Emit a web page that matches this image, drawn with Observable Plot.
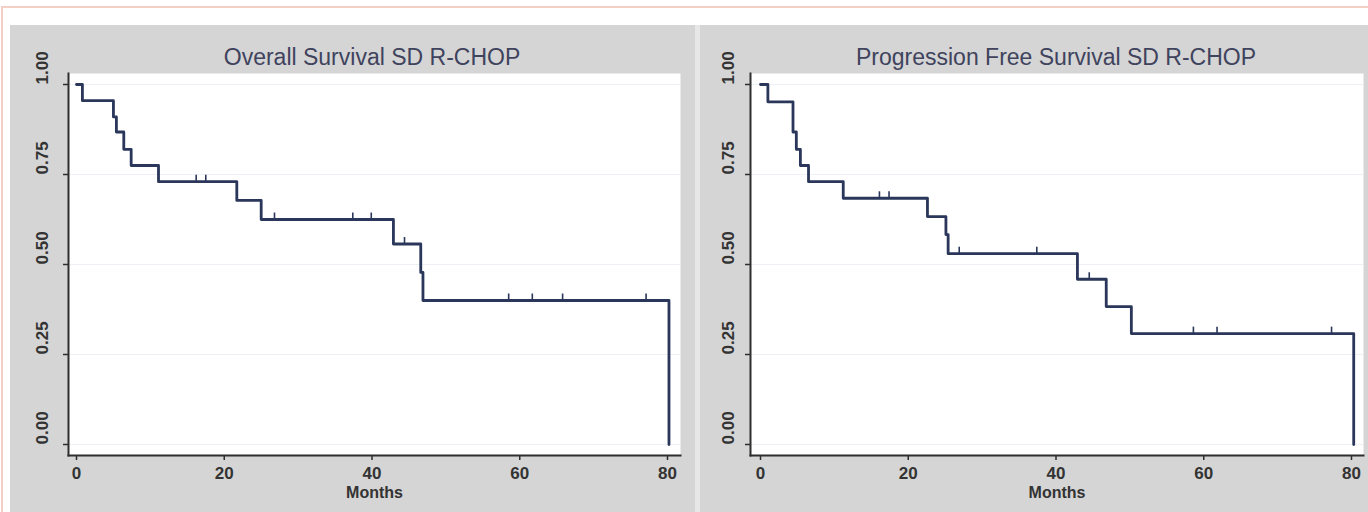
<!DOCTYPE html>
<html>
<head>
<meta charset="utf-8">
<script src="https://cdn.jsdelivr.net/npm/d3@7"></script>
<script src="https://cdn.jsdelivr.net/npm/@observablehq/plot@0.6"></script>
<style>
  html, body { margin: 0; padding: 0; background: #ffffff; width: 1368px; height: 512px; overflow: hidden; }
  #outer { position: absolute; left: 1px; top: 6px; width: 1400px; height: 600px; border-top: 2px solid #f3cfc5; border-left: 2px solid #f3cfc5; }
  .panel { position: absolute; top: 25px; height: 487px; background: #d5d5d5; }
  #sep { position: absolute; left: 695px; top: 25px; width: 5px; height: 487px; background: #e7e7e7; }
  .title { position: absolute; top: 19px; font-family: "Liberation Sans", Arial, sans-serif; font-size: 23px; color: #3f435d; white-space: nowrap; transform: translateX(-50%); }
  .panel svg { position: absolute; left: 0; top: 0; }
</style>
</head>
<body>
<div id="outer"></div>
<div class="panel" id="left" style="left:10px;width:685px;"></div>
<div id="sep"></div>
<div class="panel" id="right" style="left:700px;width:668px;"></div>
<script>
// ---- Data ----
const osTitle = "Overall Survival SD R-CHOP";
const pfsTitle = "Progression Free Survival SD R-CHOP";
const xLabel = "Months";
const xTicks = [0, 20, 40, 60, 80];
const yTicks = [0, 0.25, 0.5, 0.75, 1];

const osTime = [0, 0.8, 5.0, 5.4, 6.4, 7.4, 11.1, 21.7, 25.0, 42.9, 46.6, 46.9, 80.2];
const osSurv = [1.0, 0.955, 0.91, 0.868, 0.82, 0.775, 0.73, 0.678, 0.625, 0.557, 0.478, 0.40, 0.0];
const osCensorTime = [16.2, 17.5, 26.8, 37.4, 39.9, 44.4, 58.5, 61.7, 65.8, 77.1];
const osCensorSurv = [0.73, 0.73, 0.625, 0.625, 0.625, 0.557, 0.40, 0.40, 0.40, 0.40];

const pfsTime = [0, 1.0, 4.4, 4.85, 5.4, 6.5, 11.2, 22.6, 25.1, 25.4, 42.9, 46.8, 50.2, 80.3];
const pfsSurv = [1.0, 0.952, 0.868, 0.82, 0.775, 0.73, 0.684, 0.633, 0.583, 0.53, 0.459, 0.383, 0.308, 0.0];
const pfsCensorTime = [16.1, 17.4, 26.9, 37.4, 44.5, 58.6, 61.8, 77.3];
const pfsCensorSurv = [0.684, 0.684, 0.53, 0.53, 0.459, 0.308, 0.308, 0.308];

const lineColor = "#2a365a";
const axisColor = "#2e2e2e";
const fontFam = "'Liberation Sans', Arial, sans-serif";

function km(container, title, times, surv, cTimes, cSurv, geom) {
  const steps = times.map((t, i) => ({t, s: surv[i]}));
  const cens = cTimes.map((t, i) => ({t, s: cSurv[i]}));
  const chart = Plot.plot({
    width: geom.width,
    height: 487,
    marginLeft: geom.marginLeft,
    marginRight: geom.marginRight,
    marginTop: 48,
    marginBottom: 57,
    insetLeft: geom.insetLeft,
    insetRight: geom.insetRight,
    insetTop: 11,
    insetBottom: 11,
    style: {fontFamily: fontFam, background: "transparent", overflow: "visible"},
    x: {domain: [0, 80]},
    y: {domain: [0, 1]},
    marks: [
      Plot.frame({fill: "#ffffff", stroke: "none"}),
      Plot.gridY(yTicks, {stroke: "#edf0f4", strokeOpacity: 1, strokeWidth: 1}),
      Plot.line(steps, {x: "t", y: "s", curve: "step-after", stroke: lineColor, strokeWidth: 2.8}),
      Plot.ruleX(cens, {x: "t", y1: "s", y2: d => d.s + 0.018, stroke: lineColor, strokeWidth: 1.6}),
      Plot.frame({anchor: "left", stroke: axisColor, strokeWidth: 2}),
      Plot.frame({anchor: "bottom", stroke: axisColor, strokeWidth: 2}),
      Plot.axisY(yTicks, {tickSize: 5, stroke: axisColor, strokeWidth: 1.5, tickFormat: () => "", label: null}),
      Plot.text(yTicks, {y: d => d, text: d => d3.format(".2f")(d), frameAnchor: "left", dx: -geom.yLabelOffset, rotate: -90, fontSize: 17, fontWeight: "bold", fill: "#333333"}),
      Plot.axisX(xTicks, {tickSize: 5, tickPadding: 6, stroke: axisColor, strokeWidth: 1.5, fontSize: 17, fontWeight: "bold", fill: "#333333", label: null}),
      Plot.text([xLabel], {text: d => d, frameAnchor: "bottom", dy: 42, fontSize: 16, fontWeight: "bold", fill: "#333333"})
    ]
  });
  const el = document.getElementById(container);
  el.appendChild(chart);
  const t = document.createElement("div");
  t.className = "title";
  t.style.left = geom.titleX + "px";
  t.textContent = title;
  el.appendChild(t);
}

km("left", osTitle, osTime, osSurv, osCensorTime, osCensorSurv,
   {width: 685, marginLeft: 58, marginRight: 15, insetLeft: 8, insetRight: 13, yLabelOffset: 26, titleX: 362});
km("right", pfsTitle, pfsTime, pfsSurv, pfsCensorTime, pfsCensorSurv,
   {width: 668, marginLeft: 50, marginRight: 5, insetLeft: 10, insetRight: 12, yLabelOffset: 22, titleX: 356});
</script>
</body>
</html>
